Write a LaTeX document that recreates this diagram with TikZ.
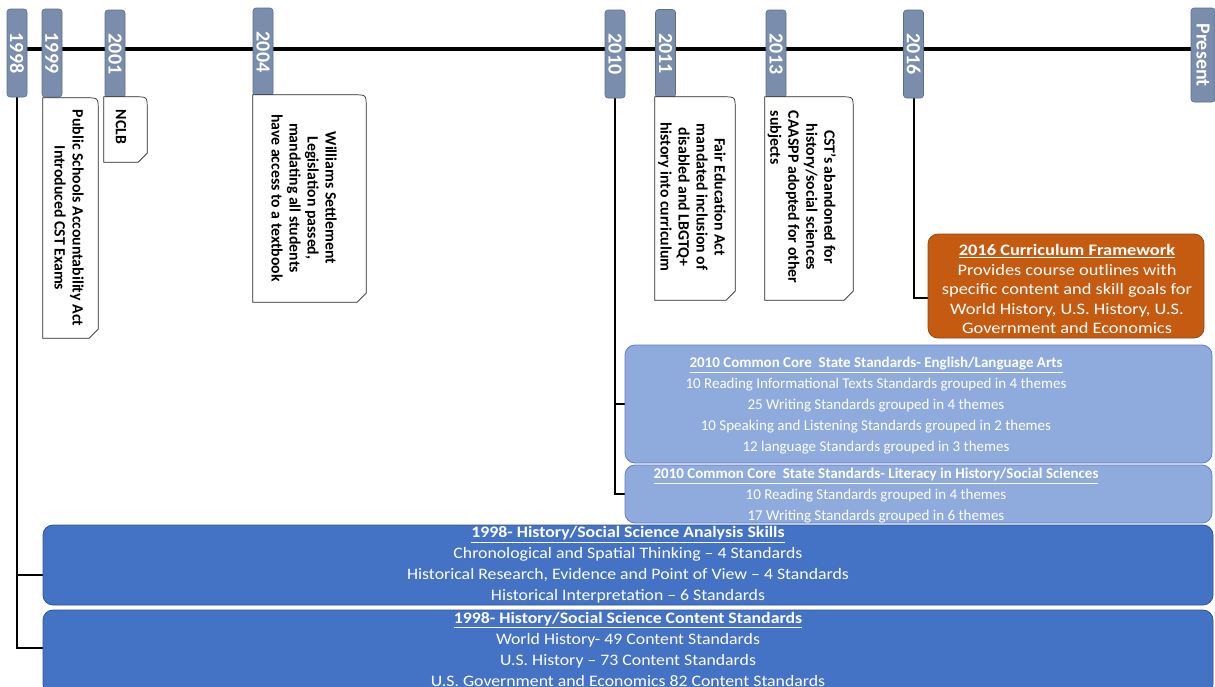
\documentclass[tikz,border=0pt]{standalone}
\usepackage{fontspec}
\usepackage{graphicx}
\setmainfont{Carlito}
\newfontfamily\widedk[FakeStretch=1.11]{Carlito}
\newfontfamily\wideor[FakeStretch=1.15]{Carlito}
\usetikzlibrary{backgrounds,calc}
\definecolor{tabfill}{HTML}{7A8DAD}
\definecolor{tabline}{HTML}{5B6E8E}
\definecolor{ltblue}{HTML}{8FAADC}
\definecolor{ltblueline}{HTML}{5F7FBF}
\definecolor{dkblue}{HTML}{4472C4}
\definecolor{dkblueline}{HTML}{2F5597}
\definecolor{orng}{HTML}{C55A11}
\definecolor{orngline}{HTML}{8C4A1E}
\newcommand\coshape[1]{\draw[cobord] (#1.south west) -- (#1.north west) -- ([xshift=-12pt]#1.north east) .. controls (#1.north east) .. ([yshift=-12pt]#1.north east) -- ([yshift=9pt]#1.south east) -- ([xshift=-9pt]#1.south east) -- cycle;}
\begin{document}
\begin{tikzpicture}[x=1pt,y=-1pt,
  yeartab/.style={rectangle, rounded corners=3pt, fill=tabfill, draw=tabline, line width=0.6pt,
    rotate=-90, minimum width=88pt, minimum height=20pt, inner sep=0pt, text=white,
    font=\fontsize{20}{20}\selectfont\bfseries},
  cobox/.style={rectangle, inner sep=0pt},
  cobord/.style={draw=black!85, fill=white, line width=0.7pt},
  cotext/.style={rotate=-90, align=center, inner sep=0pt, text=black,
    font=\fontsize{15.8}{18}\selectfont\bfseries},
  bigbox/.style={rectangle, rounded corners=10pt, inner sep=0pt, line width=0.8pt},
  boxtext/.style={align=center, inner sep=0pt, text=white},
  conn/.style={draw=black, line width=2pt},
  timeline/.style={draw=black, line width=3.5pt}
]
\path[use as bounding box] (0,0) rectangle (1215,686);

% year tabs
\node[yeartab] (t1998) at (17,53) {1998};
\node[yeartab] (t1999) at (52,53) {1999};
\node[yeartab] (t2001) at (115,54) {2001};
\node[yeartab] (t2004) at (263,52) {2004};
\node[yeartab] (t2010) at (615,54) {2010};
\node[yeartab] (t2011) at (665.5,53.5) {2011};
\node[yeartab] (t2013) at (776,54) {2013};
\node[yeartab] (t2016) at (913.5,54) {2016};
\node[yeartab, minimum width=94pt, minimum height=24pt] (tPresent) at (1203,55) {Present};

% callouts
\node[cobox, minimum width=55pt, minimum height=240pt] (c1999) at (70.5,218) {};
\coshape{c1999}
\node[cotext] (c1999t) at (69,218) {Public Schools Accountability Act\\Introduced CST Exams};

\node[cobox, minimum width=43pt, minimum height=65pt] (c2001) at (125.5,129.5) {};
\coshape{c2001}
\node[cotext] (c2001t) at (121,127) {NCLB};

\node[cobox, minimum width=113pt, minimum height=207pt] (c2004) at (309.5,198.5) {};
\coshape{c2004}
\node[cotext] (c2004t) at (304,198) {Williams Settlement\\Legislation passed,\\mandating all students\\have access to a textbook};

\node[cobox, minimum width=80pt, minimum height=203pt] (c2011) at (695,198.5) {};
\coshape{c2011}
\node[cotext] (c2011t) at (692,197) {Fair Education Act\\mandated inclusion of\\disabled and LBGTQ+\\history into curriculum};

\node[cobox, minimum width=88pt, minimum height=203pt] (c2013) at (809,198.5) {};
\coshape{c2013}
\node[cotext] (c2013t) at (801,197) {\begin{tabular}{@{}c@{}}CST's abandoned for\\history/social sciences\\CAASPP adopted for other\\\multicolumn{1}{@{}l@{}}{subjects}\end{tabular}};

% standards boxes
\node[bigbox, fill=orng, draw=orngline, minimum width=276pt, minimum height=104pt] (fw) at (1066,286) {};
\node[boxtext, font=\wideor\fontsize{16}{19.5}\selectfont] (fwt) at (1067,289)
  {\textbf{\underline{2016 Curriculum Framework}}\\Provides course outlines with\\specific content and skill goals for\\World History, U.S. History, U.S.\\Government and Economics};

\node[bigbox, fill=ltblue, draw=ltblueline, minimum width=587pt, minimum height=118pt] (ela) at (918.5,404) {};
\node[boxtext, font=\fontsize{15}{21}\selectfont] (elat) at (876,406)
  {\textbf{\underline{2010 Common Core~ State Standards- English/Language Arts}}\\10 Reading Informational Texts Standards grouped in 4 themes\\25 Writing Standards grouped in 4 themes\\10 Speaking and Listening Standards grouped in 2 themes\\12 language Standards grouped in 3 themes};

\node[bigbox, fill=ltblue, draw=ltblueline, minimum width=587pt, minimum height=58pt] (lit) at (918.5,494) {};
\node[boxtext, font=\fontsize{15}{21}\selectfont] (litt) at (876,496)
  {\textbf{\underline{2010 Common Core~ State Standards- Literacy in History/Social Sciences}}\\10 Reading Standards grouped in 4 themes\\17 Writing Standards grouped in 6 themes};

\node[bigbox, fill=dkblue, draw=dkblueline, minimum width=1170pt, minimum height=80pt] (skills) at (628,565) {};
\node[boxtext, font=\widedk\fontsize{16}{21}\selectfont] (skillst) at (628,565)
  {\textbf{\underline{1998- History/Social Science Analysis Skills}}\\Chronological and Spatial Thinking – 4 Standards\\Historical Research, Evidence and Point of View – 4 Standards\\Historical Interpretation – 6 Standards};

\node[bigbox, fill=dkblue, draw=dkblueline, minimum width=1170pt, minimum height=84pt] (content) at (628,652) {};
\node[boxtext, font=\widedk\fontsize{16}{21}\selectfont] (contentt) at (628,649)
  {\textbf{\underline{1998- History/Social Science Content Standards}}\\World History- 49 Content Standards\\U.S. History – 73 Content Standards\\U.S. Government and Economics 82 Content Standards};

\coordinate (tl) at (0,49);
\begin{pgfonlayer}{background}
  \fill[white] (0,0) rectangle (1215,686);
  \draw[timeline] (t1998 |- tl) -- (tPresent |- tl);
  \draw[conn] (t1998.east) |- ([yshift=-10pt]skills.west);
  \draw[conn] (t1998.east) |- ([yshift=4pt]content.west);
  \draw[conn] (t2010.east) |- (ela.west);
  \draw[conn] (t2010.east) |- (lit.west);
  \draw[conn] (t2016.east) |- ([yshift=-12pt]fw.west);
\end{pgfonlayer}
\end{tikzpicture}
\end{document}
